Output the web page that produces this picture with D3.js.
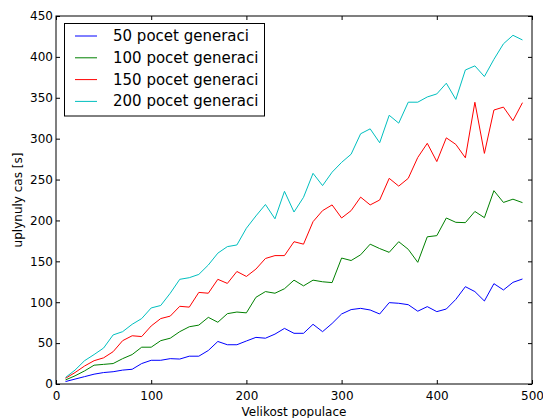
<!DOCTYPE html>
<html>
<head>
<meta charset="utf-8">
<script src="https://cdn.jsdelivr.net/npm/d3@7"></script>
<style>
  html, body { margin: 0; padding: 0; background: #fff; }
  svg { display: block; font-family: "DejaVu Sans", sans-serif; }
</style>
</head>
<body>
<svg id="chart" width="543" height="418"></svg>
<script>
// Population sizes (x) and elapsed time [s] for each number of generations
const populace = d3.range(10, 500, 10);

const gen50 = [3, 6, 9, 12, 14, 15, 17, 18, 25, 29, 29, 31, 30.5, 34, 34, 41, 52, 48, 48, 52.6,
  57, 56, 61, 68, 62, 62, 73, 64, 74, 85.6, 91, 92.5, 90.5, 85.6, 99.5, 98.7, 97, 89, 94.6, 88.5,
  91.7, 103.5, 119, 113, 101.5, 122.7, 115, 124.3, 128.4];

const gen100 = [5, 10, 16, 23, 24, 25, 31, 36, 45, 45, 53, 56, 64, 70, 72, 81.5, 75.5, 86, 88, 87,
  106, 113, 111, 116.5, 127, 120, 127, 125, 124, 154, 151, 158, 171, 165.6, 161, 174, 164.7, 148.8, 180, 181.4,
  203, 197.7, 197.3, 211, 203.4, 236.4, 222, 226, 221.8];

const gen150 = [7, 14, 22, 28.5, 32, 39.5, 53, 59, 58, 71, 80, 83, 95, 94, 112, 111, 128, 123, 137.6, 131.5,
  140.5, 153.5, 157, 157, 174, 171, 198.5, 212, 219, 203, 212, 228.5, 219, 225, 251.5, 242, 251.5, 277, 294.3, 272,
  301, 293, 276.6, 344.5, 282, 335, 338.6, 322, 344];

const gen200 = [8, 17, 28.5, 36, 44, 60, 64, 73, 80, 93, 96, 111, 128, 130, 134, 145.5, 160, 168, 170, 190.5,
  205.5, 219.5, 202, 235.6, 210.3, 228.3, 257.6, 242.6, 259, 271, 281, 306, 312, 295, 328.6, 319, 344.6, 344.6, 351, 354.7,
  367.8, 348, 384, 389, 376, 397, 416, 426.4, 420.7];

const seriesNames = ["50 pocet generaci", "100 pocet generaci", "150 pocet generaci", "200 pocet generaci"];
const seriesValues = [gen50, gen100, gen150, gen200];
const seriesColors = ["#0000ff", "#008000", "#ff0000", "#00bfbf"];

const xTicks = [0, 100, 200, 300, 400, 500];
const yTicks = [0, 50, 100, 150, 200, 250, 300, 350, 400, 450];

const xLabel = "Velikost populace";
const yLabel = "uplynuly cas [s]";

// Layout
const plotL = 56, plotR = 532, plotT = 16, plotB = 384;
const svg = d3.select("#chart");

const x = d3.scaleLinear().domain([0, 500]).range([plotL, plotR]);
const y = d3.scaleLinear().domain([0, 450]).range([plotB, plotT]);

// Lines
const line = d3.line().x((d, i) => x(populace[i])).y(d => y(d));
const plot = svg.append("g");
seriesValues.forEach((vals, s) => {
  plot.append("path")
    .datum(vals)
    .attr("d", line)
    .attr("fill", "none")
    .attr("stroke", seriesColors[s])
    .attr("stroke-width", 1)
    .attr("stroke-linejoin", "round");
});

// Axes with inward ticks on all four sides
const tickLen = 4;
const fmt = d3.format("d");
const axBottom = svg.append("g").attr("transform", `translate(0,${plotB})`)
  .call(d3.axisBottom(x).tickValues(xTicks).tickFormat(fmt).tickSizeInner(-tickLen).tickSizeOuter(0).tickPadding(6));
const axTop = svg.append("g").attr("transform", `translate(0,${plotT})`)
  .call(d3.axisTop(x).tickValues(xTicks).tickFormat("").tickSizeInner(-tickLen).tickSizeOuter(0));
const axLeft = svg.append("g").attr("transform", `translate(${plotL},0)`)
  .call(d3.axisLeft(y).tickValues(yTicks).tickFormat(fmt).tickSizeInner(-tickLen).tickSizeOuter(0).tickPadding(7));
const axRight = svg.append("g").attr("transform", `translate(${plotR},0)`)
  .call(d3.axisRight(y).tickValues(yTicks).tickFormat("").tickSizeInner(-tickLen).tickSizeOuter(0));

[axBottom, axTop, axLeft, axRight].forEach(g => {
  g.select(".domain").remove();
  g.selectAll(".tick line").attr("stroke", "#000");
  g.selectAll("text").attr("fill", "#000").attr("font-size", 12)
    .attr("font-family", "DejaVu Sans, sans-serif");
});
axBottom.selectAll("text").attr("dy", "0.71em").attr("y", 7);
axLeft.selectAll("text").attr("x", -3);

// Frame
svg.append("rect")
  .attr("x", plotL).attr("y", plotT)
  .attr("width", plotR - plotL).attr("height", plotB - plotT)
  .attr("fill", "none").attr("stroke", "#000").attr("stroke-width", 1);

// Axis titles
svg.append("text")
  .attr("x", (plotL + plotR) / 2).attr("y", 415.5)
  .attr("text-anchor", "middle")
  .attr("font-size", 12).text(xLabel);
svg.append("text")
  .attr("transform", `translate(18,${(plotT + plotB) / 2}) rotate(-90)`)
  .attr("text-anchor", "middle").attr("dominant-baseline", "middle")
  .attr("font-size", 12).text(yLabel);

// Legend
const legend = svg.append("g");
legend.append("rect")
  .attr("x", 64.5).attr("y", 23.5).attr("width", 200).attr("height", 92.5)
  .attr("fill", "#fff").attr("stroke", "#000").attr("stroke-width", 1);
seriesNames.forEach((name, i) => {
  const ly = 36 + i * 21.8;
  legend.append("line")
    .attr("x1", 75).attr("x2", 97).attr("y1", ly).attr("y2", ly)
    .attr("stroke", seriesColors[i]).attr("stroke-width", 1);
  legend.append("text")
    .attr("x", 113).attr("y", ly)
    .attr("dominant-baseline", "central")
    .attr("font-size", 15).attr("fill", "#000").text(name);
});
</script>
</body>
</html>
